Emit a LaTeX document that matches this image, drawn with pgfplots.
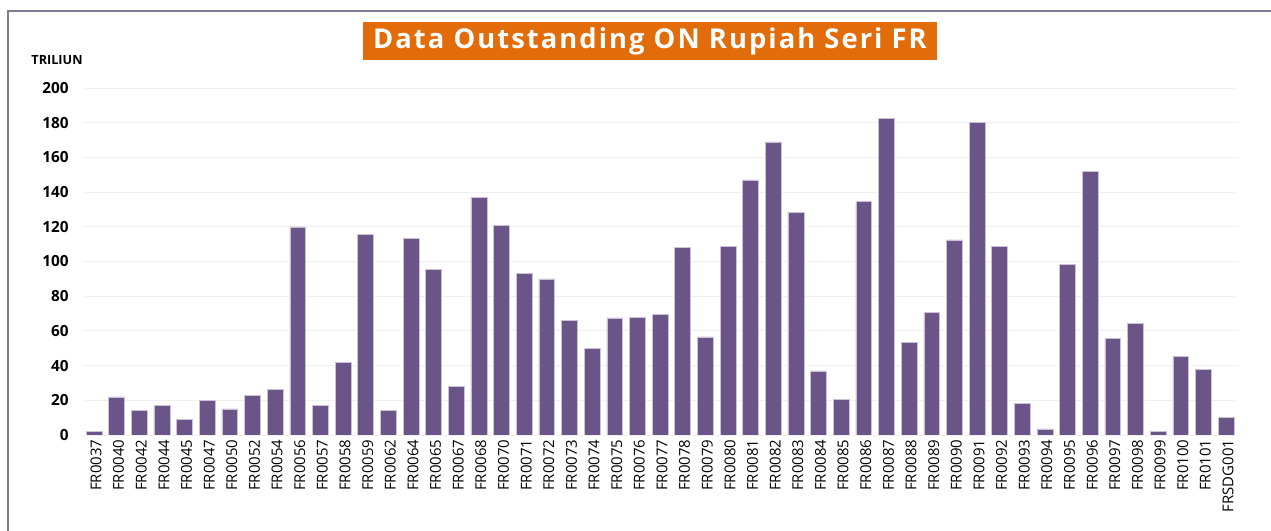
\documentclass[border=0pt]{standalone}
\usepackage{fontspec}
\setmainfont{Open Sans}
\newfontfamily\titlefont{Open Sans}[LetterSpace=7.5]
\usepackage{pgfplots}
\pgfplotsset{compat=1.18}
\definecolor{barc}{RGB}{106,84,136}
\definecolor{titlec}{RGB}{227,108,10}
\definecolor{framec}{RGB}{130,122,145}
\begin{document}
\begin{tikzpicture}[x=0.75pt,y=0.75pt]
\useasboundingbox (0,0) rectangle (1271,531);
\fill[white] (0,0) rectangle (1271,531);
\draw[framec, line width=1.5pt] (8,0) -- (8,520) -- (1271,520);
\begin{axis}[
  at={(62.0pt,72pt)}, anchor=south west,
  scale only axis, width=866pt, height=260.25pt,
  xmin=-0.5, xmax=50.5, ymin=0, ymax=200,
  ytick={0,20,...,200},
  xtick={0,...,50},
  xticklabels={FR0037,FR0040,FR0042,FR0044,FR0045,FR0047,FR0050,FR0052,FR0054,FR0056,FR0057,FR0058,FR0059,FR0062,FR0064,FR0065,FR0067,FR0068,FR0070,FR0071,FR0072,FR0073,FR0074,FR0075,FR0076,FR0077,FR0078,FR0079,FR0080,FR0081,FR0082,FR0083,FR0084,FR0085,FR0086,FR0087,FR0088,FR0089,FR0090,FR0091,FR0092,FR0093,FR0094,FR0095,FR0096,FR0097,FR0098,FR0099,FR0100,FR0101,FRSDG001},
  x tick label style={rotate=90, anchor=east, yshift=-1.5pt, font=\fontsize{11.2}{11.2}\selectfont},
  y tick label style={xshift=-7pt, font=\bfseries\fontsize{11.5}{11.5}\selectfont},
  /pgf/number format/assume math mode=true,
  axis line style={draw=none},
  tick style={draw=none},
  ymajorgrids, grid style={black!6, line width=0.6pt},
]
\addplot[ybar, bar width=0.7, fill=barc, draw=barc!35!white, line width=0.4pt] coordinates {
(0,2) (1,22) (2,14) (3,17) (4,9) (5,20) (6,15) (7,23) (8,26.5) (9,120)
(10,17) (11,42) (12,115.5) (13,14) (14,113.5) (15,95.5) (16,28) (17,137) (18,121) (19,93)
(20,90) (21,66) (22,50) (23,67.5) (24,68) (25,69.5) (26,108) (27,56.5) (28,108.5) (29,147)
(30,169) (31,128.5) (32,37) (33,20.5) (34,134.5) (35,182.5) (36,53.5) (37,70.5) (38,112.5) (39,180)
(40,108.5) (41,18) (42,3.5) (43,98.5) (44,152) (45,55.5) (46,64.5) (47,2) (48,45.5) (49,38)
(50,10)
};
\end{axis}
\node[fill=titlec, text=white, font=\titlefont\bfseries\fontsize{20.5}{20.5}\selectfont, minimum width=430.5pt, minimum height=28.5pt, inner sep=0pt] at (650,490) {Data Outstanding ON Rupiah Seri FR};
\node[font=\bfseries\fontsize{9.5}{9.5}\selectfont] at (57,471) {TRILIUN};
\end{tikzpicture}
\end{document}
